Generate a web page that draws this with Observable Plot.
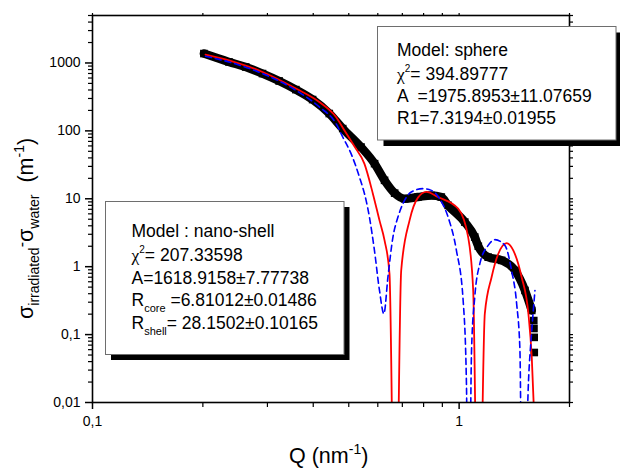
<!DOCTYPE html>
<html><head><meta charset="utf-8">
<script src="https://cdn.jsdelivr.net/npm/d3@7"></script>
<script src="https://cdn.jsdelivr.net/npm/@observablehq/plot@0.6"></script>
<style>body{margin:0;background:#fff;}</style>
</head><body><div id="chart"></div>
<script>
// measured data (black squares)
const dataQ = [0.2013, 0.2356, 0.2618, 0.2909, 0.3229, 0.3587, 0.3984, 0.4424, 0.4814, 0.540, 0.588, 0.626, 0.667, 0.710, 0.772, 0.840, 0.894, 0.933, 1.036, 1.103, 1.128, 1.200, 1.306, 1.420, 1.512, 1.578, 1.598, 1.600, 1.602, 1.603];
const dataSigma = [1375, 1035, 873, 698, 543, 405, 289, 180, 108, 57.8, 32.9, 18.7, 12.1, 10.0, 10.6, 11.2, 10.6, 8.0, 4.54, 2.73, 2.0, 1.38, 1.24, 0.88, 0.447, 0.227, 0.161, 0.123, 0.091, 0.0545];
// nano-shell model (red)
const shellQ = [0.2034, 0.2356, 0.2909, 0.3587, 0.4155, 0.4616, 0.4863, 0.5179, 0.5515, 0.5817, 0.6064, 0.626, 0.6457, 0.6694, 0.695, 0.7325, 0.7722, 0.8137, 0.876, 0.9938, 1.0583, 1.0923, 1.129, 1.175, 1.226, 1.279, 1.348, 1.405, 1.481, 1.545, 1.578, 1.605];
const shellSigma = [1330, 1096, 737, 420, 266, 160, 102, 59.2, 32.9, 11.9, 4.81, 2.44, 0.79, 0.00001, 0.88, 4.81, 10.4, 12.6, 10.6, 7.15, 2.73, 0.447, 0.00001, 0.203, 0.70, 1.55, 2.23, 1.74, 0.70, 0.203, 0.0465, 0.005];
// sphere model (blue dashed)
const sphereQ = [0.2034, 0.2356, 0.2909, 0.3587, 0.4155, 0.4616, 0.4814, 0.5073, 0.5346, 0.5575, 0.5692, 0.5875, 0.6064, 0.6234, 0.6394, 0.6599, 0.681, 0.7026, 0.7405, 0.797, 0.840, 0.885, 0.933, 0.983, 1.0255, 1.047, 1.0605, 1.081, 1.103, 1.139, 1.200, 1.252, 1.333, 1.390, 1.435, 1.465, 1.490, 1.545, 1.578, 1.61];
const sphereSigma = [1256, 1035, 698, 396, 225, 128, 81.2, 46.2, 20.9, 9.48, 5.38, 1.74, 0.447, 0.203, 0.70, 2.73, 5.38, 8.47, 12.6, 14.1, 13.3, 10.0, 5.38, 1.74, 0.318, 0.019, 0.00001, 0.0583, 0.356, 1.107, 2.06, 2.50, 2.06, 0.88, 0.285, 0.0583, 0.00001, 0.019, 0.115, 0.447];

const xMajor = [0.1, 1];
const xTickLabels = ["0,1", "1"];
const yMajor = [0.01, 0.1, 1, 10, 100, 1000];
const yTickLabels = ["0,01", "0,1", "1", "10", "100", "1000"];

const measured = dataQ.map((q, i) => ({q, s: dataSigma[i]}));
const shell = shellQ.map((q, i) => ({q, s: shellSigma[i]}));
const sphere = sphereQ.map((q, i) => ({q, s: sphereSigma[i]}));

const xMinor = [], yMinor = [];
for (const d of [0.1, 1]) for (let k = 2; k <= 9; k++) { const v = +(d * k).toPrecision(3); if (v <= 2) xMinor.push(v); }
for (const d of yMajor) for (let k = 2; k <= 9; k++) { const v = +(d * k).toPrecision(3); if (v <= 5000) yMinor.push(v); }

const font = "'Liberation Sans', Arial, sans-serif";

const plot = Plot.plot({
  width: 620, height: 468,
  marginLeft: 92, marginRight: 51, marginTop: 15, marginBottom: 66,
  style: {fontFamily: font, color: "black", background: "white", overflow: "visible"},
  x: {type: "log", domain: [0.1, 2], label: null},
  y: {type: "log", domain: [0.01, 5000], label: null},
  marks: [
    Plot.line(measured, {filter: d => d.s > 0.2, x: "q", y: "s", stroke: "black", strokeWidth: 8.5, curve: "monotone-x", clip: true}),
    Plot.dot(measured, {x: "q", y: "s", symbol: "square", r: 4.3, fill: "black", clip: true}),
    Plot.line(shell, {x: "q", y: "s", stroke: "#ff0000", strokeWidth: 1.8, curve: "monotone-x", clip: true}),
    Plot.line(sphere, {x: "q", y: "s", stroke: "#0000ff", strokeWidth: 1.6, strokeDasharray: "6,4", curve: "monotone-x", clip: true}),
    Plot.axisY(yMajor, {anchor: "left", tickSize: 7, tickPadding: 5, strokeWidth: 1.5, fontSize: 14, label: null, tickFormat: d => yTickLabels[yMajor.indexOf(d)]}),
    Plot.axisY(yMinor, {anchor: "left", tickSize: 4, strokeWidth: 1.2, label: null, tickFormat: () => ""}),
    Plot.axisX(xMajor, {anchor: "bottom", tickSize: 7, tickPadding: 7, strokeWidth: 1.5, fontSize: 14, label: null, tickFormat: d => xTickLabels[xMajor.indexOf(d)]}),
    Plot.axisX(xMinor, {anchor: "bottom", tickSize: 5, strokeWidth: 1.2, label: null, tickFormat: () => ""}),
    Plot.axisX(xMajor.concat(xMinor), {anchor: "top", tickSize: 3, strokeWidth: 1.2, label: null, tickFormat: () => ""}),
    Plot.axisY(yMajor.concat(yMinor), {anchor: "right", tickSize: 3, strokeWidth: 1.2, label: null, tickFormat: () => ""}),
    Plot.frame({stroke: "black", strokeWidth: 1.6})
  ]
});
document.getElementById("chart").appendChild(plot);

const svg = d3.select(plot);
const g = svg.append("g").attr("font-family", font).attr("fill", "black").attr("text-anchor", "start");

function richText(parent, x, y, parts, baseSize, attrs = {}) {
  const t = parent.append("text").attr("x", x).attr("y", y).attr("font-size", baseSize)
    .attr("text-anchor", "start").style("white-space", "pre");
  for (const [k, v] of Object.entries(attrs)) t.attr(k, v);
  let shift = 0;
  for (const p of parts) {
    const s = t.append("tspan").text(p.t);
    const want = p.dy || 0;
    if (want !== shift) { s.attr("dy", want - shift); shift = want; }
    if (p.size) s.attr("font-size", p.size);
    if (p.family) s.attr("font-family", p.family);
  }
  return t;
}

function box(x, y, w, h, off) {
  g.append("rect").attr("x", x + off).attr("y", y + off).attr("width", w).attr("height", h).attr("fill", "black");
  g.append("rect").attr("x", x).attr("y", y).attr("width", w).attr("height", h).attr("fill", "white").attr("stroke", "#6e6e6e").attr("stroke-width", 1);
}

const serif = "'Liberation Serif', 'DejaVu Serif', serif";
const fs = 17.5;
// sphere box
box(377.5, 26.5, 238.5, 113.5, 6);
richText(g, 397, 55.5, [{t: "Model: sphere"}], fs);
richText(g, 397, 80, [{t: "χ", family: serif}, {t: "2", size: 10, dy: -8}, {t: "= 394.89777", dy: 0}], fs);
richText(g, 397, 102, [{t: "A  =1975.8953±11.07659"}], fs);
richText(g, 397, 124, [{t: "R1=7.3194±0.01955"}], fs);

// nano-shell box
box(105.5, 201.5, 238.5, 153, 5.5);
richText(g, 131.5, 237, [{t: "Model : nano-shell"}], fs);
richText(g, 131.5, 261, [{t: "χ", family: serif}, {t: "2", size: 10, dy: -8}, {t: "= 207.33598", dy: 0}], fs);
richText(g, 131.5, 284, [{t: "A=1618.9158±7.77738"}], fs);
richText(g, 131.5, 306, [{t: "R"}, {t: "core", size: 11, dy: 6}, {t: " =6.81012±0.01486", dy: 0}], fs);
richText(g, 131.5, 329, [{t: "R"}, {t: "shell", size: 11, dy: 6}, {t: "= 28.1502±0.10165", dy: 0}], fs);

// axis titles
richText(g, 289, 463, [{t: "Q (nm"}, {t: "-1", size: 14, dy: -9}, {t: ")", dy: 0}], 21.5);
richText(g, 0, 0, [
  {t: "σ"}, {t: "irradiated", size: 14, dy: 6}, {t: "-", size: 16, dy: -6}, {t: "σ", dy: 0}, {t: "water", size: 14, dy: 6},
  {t: "  (m", dy: 0}, {t: "-1", size: 14, dy: -9}, {t: ")", dy: 0}
], 21.5, {transform: "translate(33,319) rotate(-90)"});
</script>
</body></html>
